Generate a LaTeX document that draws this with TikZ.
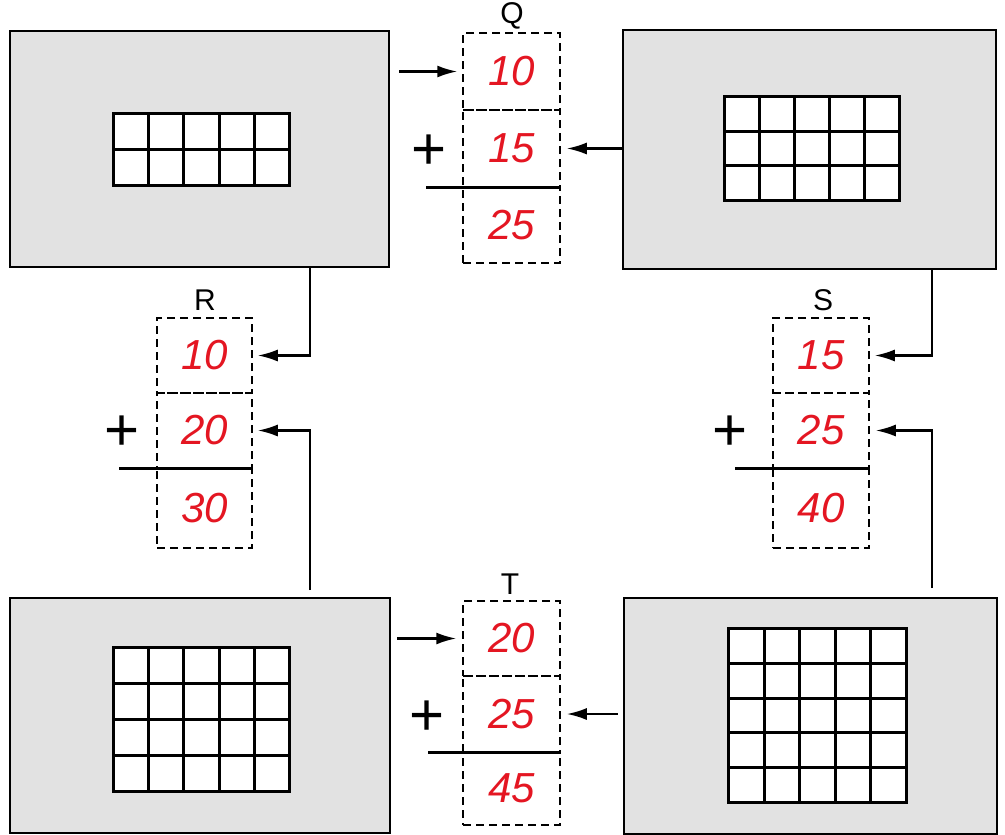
\documentclass[tikz,border=0pt]{standalone}
\usepackage{fontspec}
\setmainfont{Liberation Sans}
\usetikzlibrary{arrows.meta,calc}
\definecolor{panelgray}{RGB}{226,226,226}
\definecolor{inkred}{RGB}{228,22,34}
\newcommand\cellgrid[6]{%
  \draw[gridline,fill=white] (#1,#2) rectangle (#3,#4);
  \foreach \i in {1,...,#5}{\draw[gridline] ({round(#1+\i*(#3-#1)/(#5+1))},#2) -- ({round(#1+\i*(#3-#1)/(#5+1))},#4);}
  \foreach \j in {1,...,#6}{\draw[gridline] (#1,{round(#2+\j*(#4-#2)/(#6+1))}) -- (#3,{round(#2+\j*(#4-#2)/(#6+1))});}
}
\begin{document}
\begin{tikzpicture}[x=1pt,y=-1pt,
  panel/.style={draw=black,line width=2.2pt,fill=panelgray,rectangle,inner sep=0pt},
  gridline/.style={draw=black,line width=3pt,line cap=rect},
  cell/.style={draw=black,line width=1.5pt,dash pattern=on 8pt off 5pt,rectangle,inner sep=0pt,
    minimum width=97pt,minimum height=77pt,text=inkred,font=\fontsize{42}{42}\selectfont\itshape},
  sumline/.style={draw=black,line width=3pt},
  plus/.style={font=\fontsize{60}{60}\selectfont,inner sep=0pt},
  lbl/.style={font=\fontsize{30}{30}\selectfont,inner sep=0pt},
  conn/.style={draw=black,line width=2.2pt,-{Latex[length=20pt,width=12pt]}}]
\useasboundingbox[fill=white] (0,0) rectangle (1005,835);

% panels
\node[panel,minimum width=379pt,minimum height=236pt] (TL) at (199.5,149) {};
\node[panel,minimum width=373pt,minimum height=239pt] (TR) at (809.5,149.5) {};
\node[panel,minimum width=380pt,minimum height=235pt] (BL) at (200,715.5) {};
\node[panel,minimum width=373pt,minimum height=236pt] (BR) at (810.5,716) {};

% grids
\cellgrid{113}{113}{289}{185}{4}{1}
\cellgrid{724}{96}{899}{200}{4}{2}
\cellgrid{113}{647}{289}{791}{4}{3}
\cellgrid{728}{628}{906}{802}{4}{4}

% stack Q
\node[lbl] (ql) at (512,16) {Q};
\node[cell] (q1) at (511.5,71.5) {10};
\node[cell] (q2) at (511.5,148.5) {15};
\node[cell,minimum height=76pt] (q3) at (511.5,225) {25};
\draw[sumline] ($(q2.south west)+(-36,0)$) -- (q2.south east);
\node[plus] (qp) at (429,152) {+};

% stack R
\node[lbl] (rl) at (205,300) {R};
\node[cell,minimum width=95pt,minimum height=75pt] (r1) at (204.5,355.5) {10};
\node[cell,minimum width=95pt,minimum height=75pt] (r2) at (204.5,430.5) {20};
\node[cell,minimum width=95pt,minimum height=80pt] (r3) at (204.5,508) {30};
\draw[sumline] ($(r2.south west)+(-37,0)$) -- (r2.south east);
\node[plus] (rp) at (122,433) {+};

% stack S
\node[lbl] (sl) at (823,300) {S};
\node[cell,minimum width=96pt,minimum height=75pt] (s1) at (821,355.5) {15};
\node[cell,minimum width=96pt,minimum height=75pt] (s2) at (821,430.5) {25};
\node[cell,minimum width=96pt,minimum height=80pt] (s3) at (821,508) {40};
\draw[sumline] ($(s2.south west)+(-37,0)$) -- (s2.south east);
\node[plus] (sp) at (730,433) {+};

% stack T
\node[lbl] (tl) at (510,584) {T};
\node[cell,minimum height=75pt] (t1) at (511.5,638.5) {20};
\node[cell,minimum height=76pt] (t2) at (511.5,714) {25};
\node[cell,minimum height=73pt] (t3) at (511.5,788.5) {45};
\draw[sumline] ($(t2.south west)+(-34,0)$) -- (t2.south east);
\node[plus] (tp) at (427,718) {+};

% connectors
\coordinate (tlout) at (310,268);
\coordinate (blout) at (310,590);
\coordinate (trout) at (932,270);
\coordinate (brout) at (932,588);
\draw[conn] ($(TL.east |- q1.west)+(9,0)$) -- ([xshift=-5pt]q1.west);
\draw[conn] (TR.west |- q2.east) -- ([xshift=6pt]q2.east);
\draw[conn] (tlout) |- ([xshift=5pt]r1.east);
\draw[conn] (blout) |- ([xshift=5pt]r2.east);
\draw[conn] (trout) |- ([xshift=5pt]s1.east);
\draw[conn] (brout) |- ([xshift=6pt]s2.east);
\draw[conn] ($(BL.east |- t1.west)+(6,0)$) -- ([xshift=-6pt]t1.west);
\draw[conn] ($(BR.west |- t2.east)+(-5,0)$) -- ([xshift=6pt]t2.east);
\end{tikzpicture}
\end{document}
